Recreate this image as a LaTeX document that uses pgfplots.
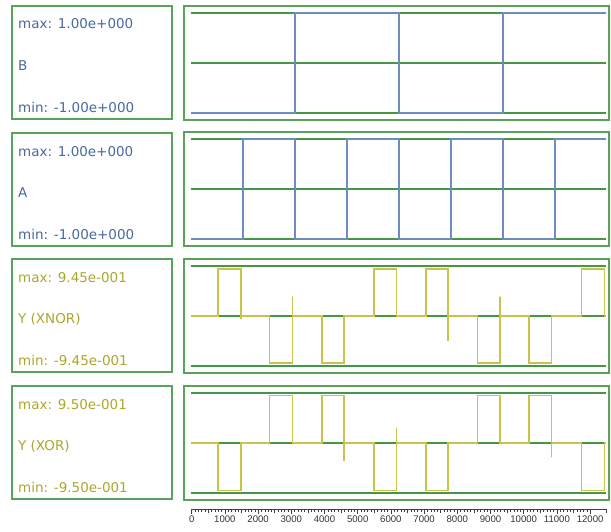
\documentclass[border=0pt]{standalone}
\usepackage{pgfplots}
\pgfplotsset{compat=1.18}
\usepackage{fontspec}
\setmainfont{DejaVu Sans}
\newfontfamily\tickfont{Liberation Sans}
\definecolor{framegreen}{RGB}{88,163,88}
\definecolor{gridgreen}{RGB}{70,150,70}
\definecolor{sigblue}{RGB}{110,140,192}
\definecolor{txtblue}{RGB}{72,104,160}
\definecolor{sigolive}{RGB}{200,195,75}
\definecolor{txtolive}{RGB}{172,166,42}
\pgfplotsset{
  sigpanel/.style={scale only axis, width=425pt, height=114pt, anchor=north west,
    xmin=-210, xmax=12560, ymin=-1.145, ymax=1.145, ticks=none,
    axis line style={framegreen, line width=2pt}},
  labpanel/.style={scale only axis, width=160pt, height=113pt, anchor=north west,
    xmin=0, xmax=1, ymin=0, ymax=1, ticks=none,
    axis line style={framegreen, line width=1.6pt}},
  gridln/.style={gridgreen, line width=1.8pt, no markers},
  bluesig/.style={sigblue, line width=1.5pt, no markers},
  olivesig/.style={sigolive, line width=1.5pt, no markers},
}
\tikzset{lab/.style={anchor=west, inner sep=0pt, font=\fontsize{13.5}{16}\selectfont}}
\newcommand{\gridlines}{%
  \addplot[gridln] coordinates {(0,1) (12480,1)};
  \addplot[gridln] coordinates {(0,0) (12480,0)};
  \addplot[gridln] coordinates {(0,-1) (12480,-1)};}
\begin{document}
\begin{tikzpicture}
\useasboundingbox (0,0) rectangle (611pt,-531pt);
% ---------- Row 1: B ----------
\begin{axis}[labpanel, at={(12pt,-6pt)}]
  \node[lab, text=txtblue] at (rel axis cs:0.0375,0.84) {max: 1.00e+000};
  \node[lab, text=txtblue] at (rel axis cs:0.0375,0.47) {B};
  \node[lab, text=txtblue] at (rel axis cs:0.0375,0.105) {min: -1.00e+000};
\end{axis}
\begin{axis}[sigpanel, at={(184pt,-6pt)}]
  \gridlines
  \addplot[bluesig] coordinates {(0,-1) (3125,-1) (3125,1) (6250,1) (6250,-1) (9375,-1) (9375,1) (12480,1)};
\end{axis}
% ---------- Row 2: A ----------
\begin{axis}[labpanel, at={(12pt,-133pt)}]
  \node[lab, text=txtblue] at (rel axis cs:0.0375,0.84) {max: 1.00e+000};
  \node[lab, text=txtblue] at (rel axis cs:0.0375,0.47) {A};
  \node[lab, text=txtblue] at (rel axis cs:0.0375,0.105) {min: -1.00e+000};
\end{axis}
\begin{axis}[sigpanel, at={(184pt,-132pt)}]
  \gridlines
  \addplot[bluesig] coordinates {(0,-1) (1562.5,-1) (1562.5,1) (3125,1) (3125,-1) (4687.5,-1) (4687.5,1) (6250,1) (6250,-1) (7812.5,-1) (7812.5,1) (9375,1) (9375,-1) (10937.5,-1) (10937.5,1) (12480,1)};
\end{axis}
% ---------- Row 3: Y (XNOR) ----------
\begin{axis}[labpanel, at={(12pt,-259pt)}]
  \node[lab, text=txtolive] at (rel axis cs:0.0375,0.84) {max: 9.45e-001};
  \node[lab, text=txtolive] at (rel axis cs:0.0375,0.47) {Y (XNOR)};
  \node[lab, text=txtolive] at (rel axis cs:0.0375,0.105) {min: -9.45e-001};
\end{axis}
\begin{axis}[sigpanel, at={(184pt,-259pt)}]
  \gridlines
  \addplot[olivesig] coordinates {
    (0,0) (815,0) (815,0.945) (1508,0.945) (1508,-0.06) (1508,0)
    (2355,0) (2355,-0.945) (3055,-0.945) (3055,0.39) (3055,0)
    (3930,0) (3930,-0.945) (4595,-0.945) (4595,0)
    (5500,0) (5500,0.945) (6170,0.945) (6170,0)
    (7060,0) (7060,0.945) (7718,0.945) (7718,-0.5) (7718,0)
    (8610,0) (8610,-0.945) (9285,-0.945) (9285,0.39) (9285,0)
    (10160,0) (10160,-0.945) (10832,-0.945) (10832,0)
    (11730,0) (11730,0.945) (12420,0.945) (12420,0) (12480,0)};
\end{axis}
% ---------- Row 4: Y (XOR) ----------
\begin{axis}[labpanel, at={(12pt,-386pt)}]
  \node[lab, text=txtolive] at (rel axis cs:0.0375,0.84) {max: 9.50e-001};
  \node[lab, text=txtolive] at (rel axis cs:0.0375,0.47) {Y (XOR)};
  \node[lab, text=txtolive] at (rel axis cs:0.0375,0.105) {min: -9.50e-001};
\end{axis}
\begin{axis}[sigpanel, at={(184pt,-386pt)}]
  \gridlines
  \addplot[olivesig] coordinates {
    (0,0) (815,0) (815,-0.95) (1508,-0.95) (1508,0)
    (2355,0) (2355,0.95) (3055,0.95) (3055,0)
    (3930,0) (3930,0.95) (4595,0.95) (4595,-0.36) (4595,0)
    (5500,0) (5500,-0.95) (6170,-0.95) (6170,0.3) (6170,0)
    (7060,0) (7060,-0.95) (7718,-0.95) (7718,0)
    (8610,0) (8610,0.95) (9285,0.95) (9285,0)
    (10160,0) (10160,0.95) (10832,0.95) (10832,-0.29) (10832,0)
    (11730,0) (11730,-0.95) (12420,-0.95) (12420,0) (12480,0)};
\end{axis}
% ---------- Ruler ----------
\begin{axis}[scale only axis, width=415pt, height=8pt, anchor=south west, at={(191.7pt,-509pt)},
  xmin=0, xmax=12500, ymin=0, ymax=1,
  axis x line*=bottom, hide y axis,
  x axis line style={-, black!75, line width=0.6pt},
  xtick={0,1000,...,12000}, minor x tick num=9,
  extra x ticks={500,1500,...,12500}, extra x tick labels={},
  extra x tick style={major tick length=4pt},
  tick align=outside, major tick length=5pt, minor tick length=2.6pt,
  tick style={black!75, line width=0.45pt},
  xticklabel style={font=\tickfont\fontsize{9.6}{11}\selectfont, text=black!80, inner sep=1.5pt},
  /pgf/number format/assume math mode=true,
  /pgf/number format/1000 sep={},
  scaled x ticks=false]
  \addplot[draw=none] coordinates {(0,0) (12500,0)};
\end{axis}
\end{tikzpicture}
\end{document}
